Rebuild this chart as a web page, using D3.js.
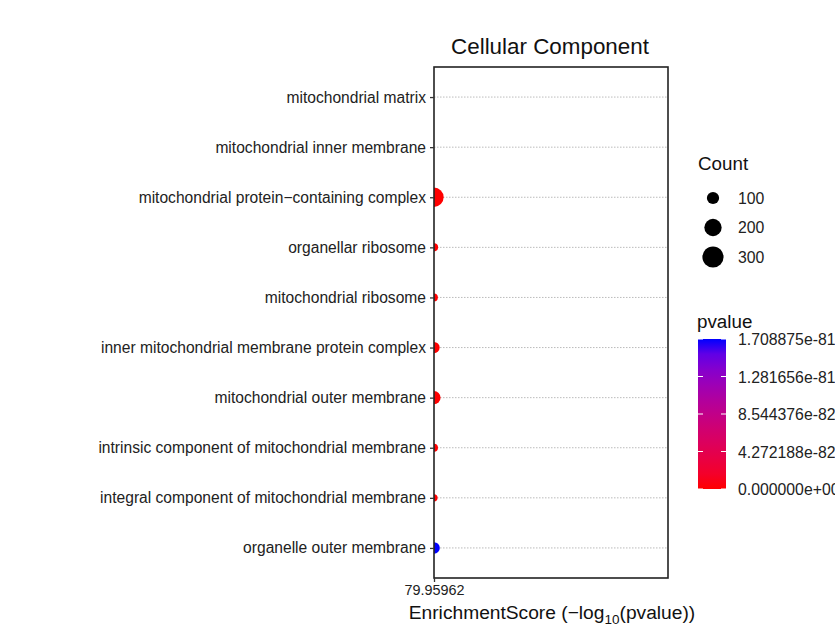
<!DOCTYPE html>
<html><head><meta charset="utf-8">
<script src="https://d3js.org/d3.v7.min.js"></script>
<style>body{margin:0;background:#fff;} text{font-family:"Liberation Sans",Arial,sans-serif;}</style>
</head><body>
<svg id="c" width="835" height="627"></svg>
<script>
const terms = [
  "mitochondrial matrix",
  "mitochondrial inner membrane",
  "mitochondrial protein\u2212containing complex",
  "organellar ribosome",
  "mitochondrial ribosome",
  "inner mitochondrial membrane protein complex",
  "mitochondrial outer membrane",
  "intrinsic component of mitochondrial membrane",
  "integral component of mitochondrial membrane",
  "organelle outer membrane"
];
const scores = [null, null, 79.95962, 79.95962, 79.95962, 79.95962, 79.95962, 79.95962, 79.95962, 79.95962];
const counts = [null, null, 250, 45, 40, 85, 115, 42, 35, 90];
const pvalues = [null, null, 0, 0, 0, 0, 0, 0, 0, 1.708875e-81];
const xTicks = [79.95962];
const xTickLabels = ["79.95962"];
const sizeBreaks = [100, 200, 300];
const pvalBreaks = [0, 4.272188e-82, 8.544376e-82, 1.281656e-81, 1.708875e-81];
const pvalLabels = ["0.000000e+00", "4.272188e-82", "8.544376e-82", "1.281656e-81", "1.708875e-81"];

const svg = d3.select("#c");
const L = 434, R = 668, T = 67, B = 578;

const x = d3.scaleLinear().domain([79.95962, 81]).range([L, R]);
const y = d3.scalePoint().domain(terms).range([T, B]).padding(0.6);
const r = d3.scaleSqrt().domain([0, 300]).range([0, 10.6]);
const col = d3.scaleLinear().domain([0, 1.708875e-81]).range(["red", "blue"]).interpolate(d3.interpolateLab);

// grid
svg.append("g").selectAll("line").data(terms).join("line")
  .attr("x1", L).attr("x2", R).attr("y1", d => y(d)).attr("y2", d => y(d))
  .attr("stroke", "#aaa").attr("stroke-width", 0.8).attr("stroke-dasharray", "1.5,1.5");

svg.append("clipPath").attr("id", "clip").append("rect")
  .attr("x", L).attr("y", T).attr("width", R - L).attr("height", B - T);

const data = terms.map((t, i) => ({t, s: scores[i], c: counts[i], p: pvalues[i]})).filter(d => d.s != null);
svg.append("g").attr("clip-path", "url(#clip)").selectAll("circle").data(data).join("circle")
  .attr("cx", d => x(d.s)).attr("cy", d => y(d.t)).attr("r", d => r(d.c))
  .attr("fill", d => col(d.p));

// panel border
svg.append("rect").attr("x", L).attr("y", T).attr("width", R - L).attr("height", B - T)
  .attr("fill", "none").attr("stroke", "#222").attr("stroke-width", 1.6);

// y axis
const ya = svg.append("g").attr("transform", `translate(${L},0)`)
  .call(d3.axisLeft(y).tickSize(4).tickPadding(4));
ya.select(".domain").remove();
ya.selectAll(".tick line").attr("stroke", "#333").attr("stroke-width", 1.3);
ya.selectAll(".tick text").attr("fill", "#222").style("font-size", "15.6px");

// x axis
const xa = svg.append("g").attr("transform", `translate(0,${B})`)
  .call(d3.axisBottom(x).tickValues(xTicks).tickFormat((d, i) => xTickLabels[i]).tickSize(4).tickPadding(3));
xa.select(".domain").remove();
xa.selectAll(".tick line").attr("stroke", "#333").attr("stroke-width", 1.3);
xa.selectAll(".tick text").attr("fill", "#222").style("font-size", "14.4px");

// title
svg.append("text").attr("x", (L + R) / 2 - 1).attr("y", 54).attr("text-anchor", "middle")
  .style("font-size", "22.4px").attr("fill", "#111").text("Cellular Component");

// x label
const xl = svg.append("text").attr("x", (L + R) / 2 + 1).attr("y", 619).attr("text-anchor", "middle")
  .style("font-size", "19.2px").attr("fill", "#111");
xl.append("tspan").text("EnrichmentScore (\u2212log");
xl.append("tspan").attr("dy", 5).style("font-size", "13.5px").text("10");
xl.append("tspan").attr("dy", -5).text("(pvalue))");

// size legend
svg.append("text").attr("x", 698).attr("y", 170).style("font-size", "18.8px").attr("fill", "#111").text("Count");
const sl = svg.append("g");
sizeBreaks.forEach((b, i) => {
  const cy = 198 + i * 29.5;
  sl.append("circle").attr("cx", 713).attr("cy", cy).attr("r", r(b)).attr("fill", "#000");
  sl.append("text").attr("x", 738).attr("y", cy + 5.5).style("font-size", "15.8px").attr("fill", "#222").text(b);
});

// color legend
svg.append("text").attr("x", 697).attr("y", 328).style("font-size", "18.8px").attr("fill", "#111").text("pvalue");
const cbTop = 339, cbBot = 489, cbL = 698, cbW = 28;
const grad = svg.append("defs").append("linearGradient").attr("id", "g").attr("x1", 0).attr("x2", 0).attr("y1", 1).attr("y2", 0);
d3.range(0, 1.0001, 0.1).forEach(t => {
  grad.append("stop").attr("offset", t).attr("stop-color", col(t * 1.708875e-81));
});
svg.append("rect").attr("x", cbL).attr("y", cbTop).attr("width", cbW).attr("height", cbBot - cbTop).attr("fill", "url(#g)");
const cy = d3.scaleLinear().domain([0, 1.708875e-81]).range([cbBot, cbTop]);
const cl = svg.append("g");
pvalBreaks.forEach((b, i) => {
  const yy = cy(b);
  cl.append("line").attr("x1", cbL).attr("x2", cbL + 5).attr("y1", yy).attr("y2", yy).attr("stroke", "#fff").attr("stroke-width", 1);
  cl.append("line").attr("x1", cbL + cbW - 5).attr("x2", cbL + cbW).attr("y1", yy).attr("y2", yy).attr("stroke", "#fff").attr("stroke-width", 1);
  cl.append("text").attr("x", 738).attr("y", yy + 6).style("font-size", "15.8px").attr("fill", "#222").text(pvalLabels[i]);
});
</script>
</body></html>
